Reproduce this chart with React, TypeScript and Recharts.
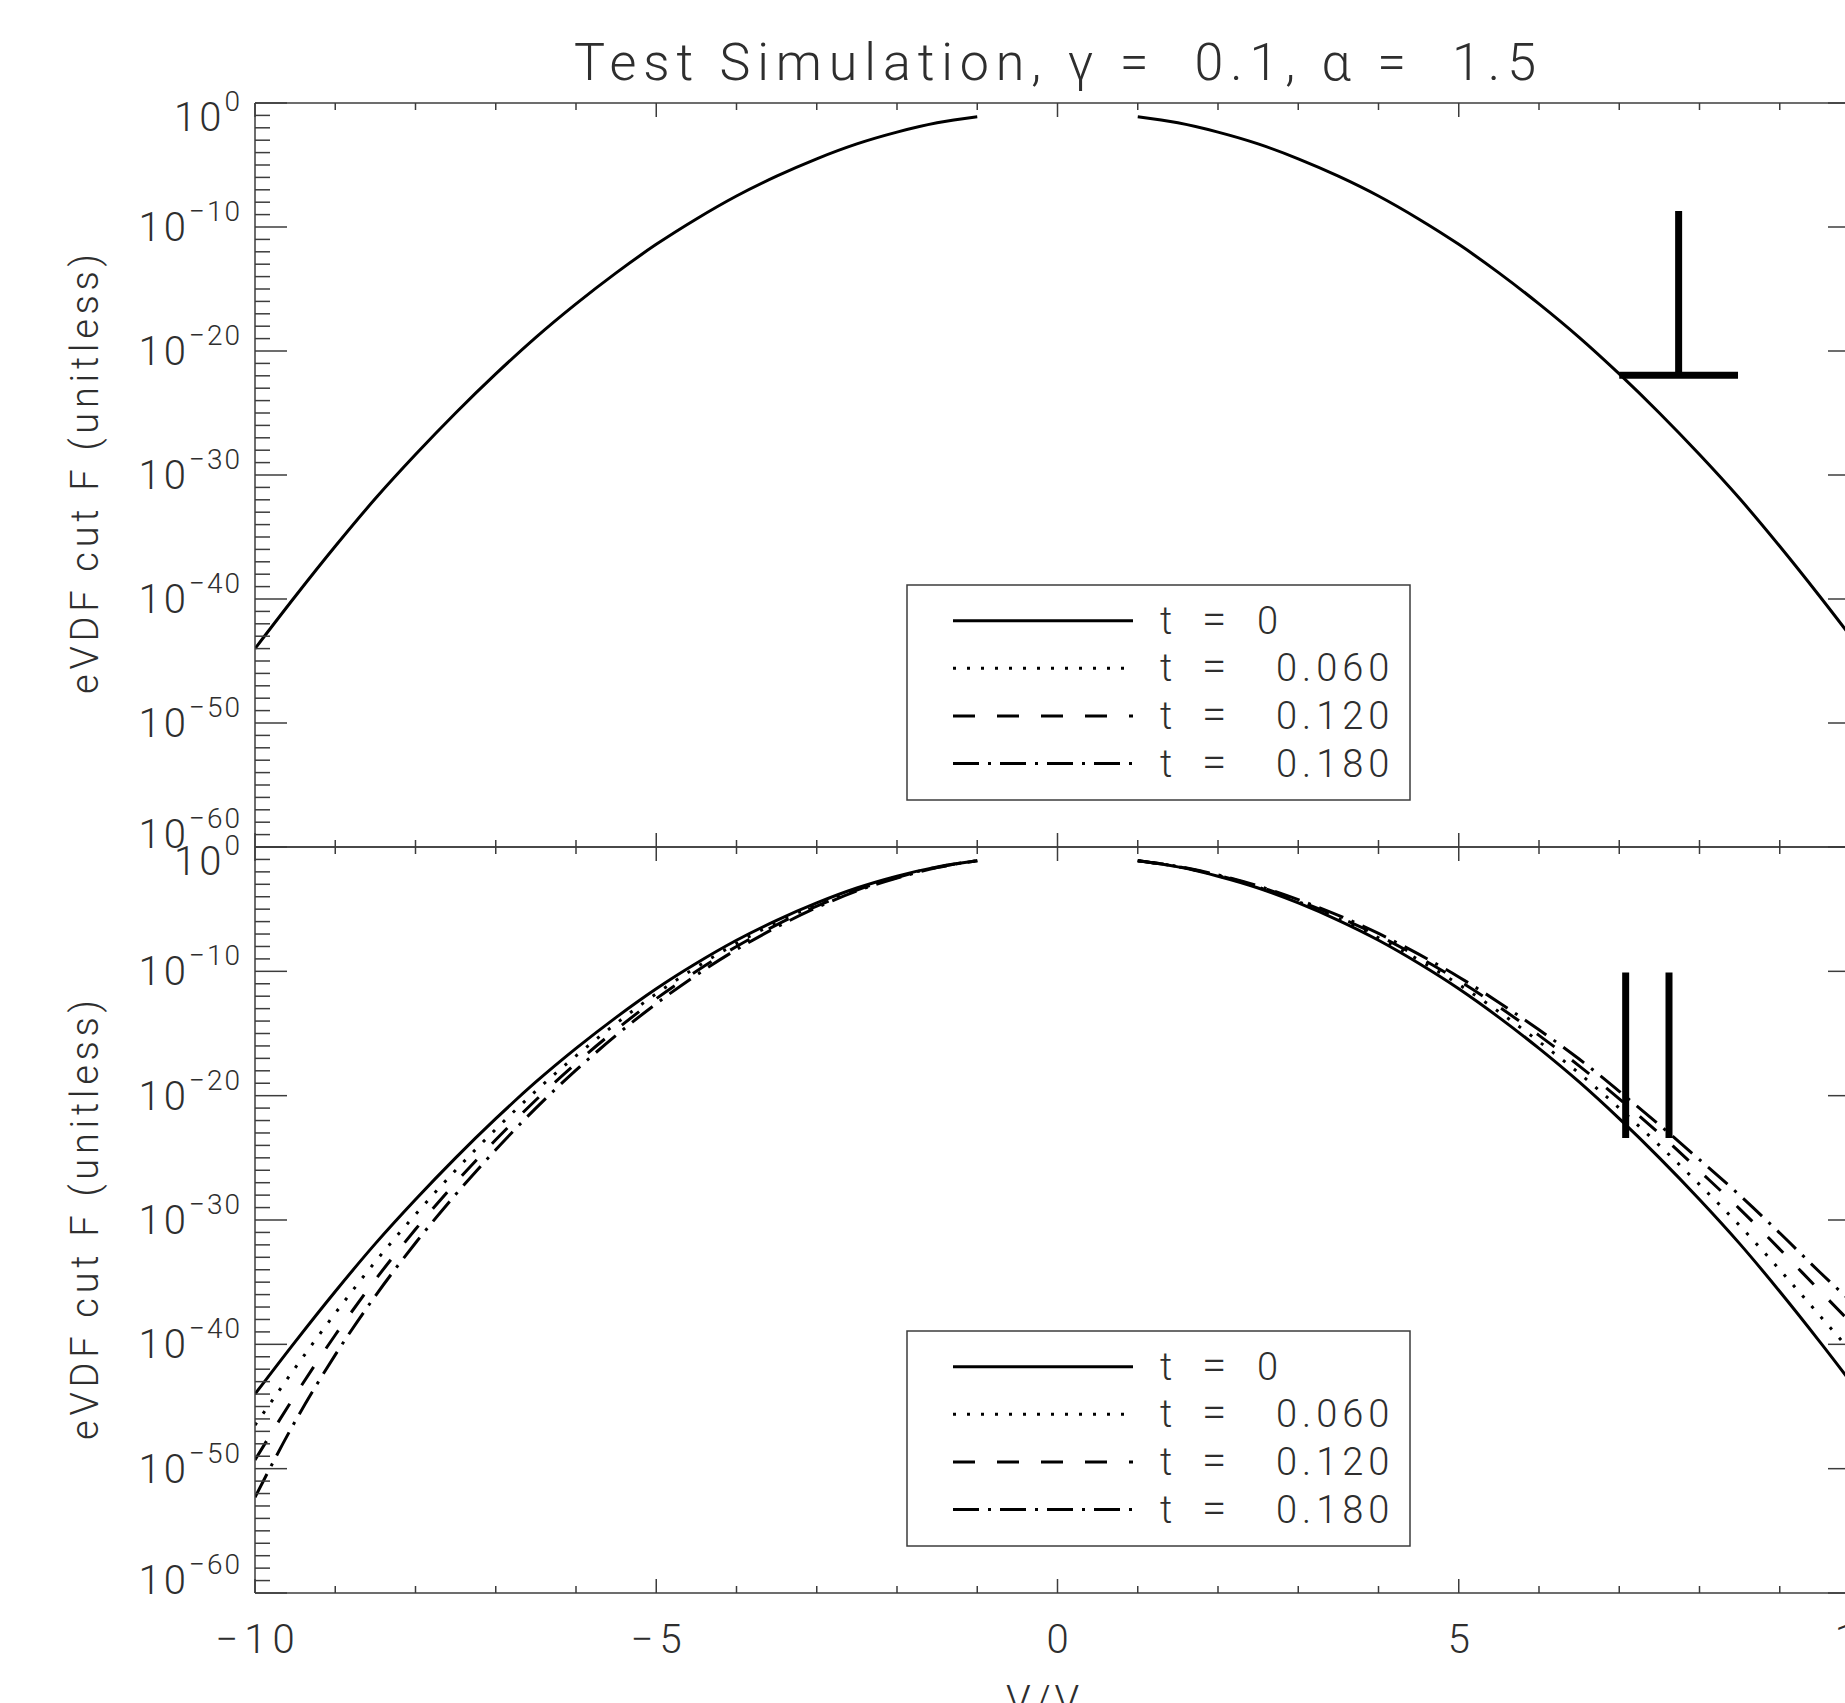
import React from 'react';
import { LineChart, Line, XAxis, YAxis, ReferenceLine, Customized } from 'recharts';

// ---------- data (log10 of F) ----------
const velocity = [-10, -9.5, -9, -8.5, -8, -7.5, -7, -6.5, -6, -5.5, -5, -4.5, -4, -3.5, -3, -2.5, -2, -1.5, -1, -0.5, 0, 0.5, 1, 1.5, 2, 2.5, 3, 3.5, 4, 4.5, 5, 5.5, 6, 6.5, 7, 7.5, 8, 8.5, 9, 9.5, 10];

const logF_t0 = [-44.0, -39.8, -35.75, -31.9, -28.35, -25.0, -21.85, -18.9, -16.2, -13.7, -11.4, -9.35, -7.5, -5.9, -4.5, -3.3, -2.35, -1.6, -1.1, null, null, null, -1.1, -1.6, -2.35, -3.3, -4.5, -5.9, -7.5, -9.35, -11.4, -13.7, -16.2, -18.9, -21.85, -25.0, -28.35, -31.9, -35.75, -39.8, -44.0];
const logF_t060 = [-46.5, -41.9, -37.5, -33.35, -29.55, -26.0, -22.7, -19.62, -16.8, -14.2, -11.8, -9.67, -7.75, -6.08, -4.62, -3.38, -2.4, -1.62, -1.1, null, null, null, -1.1, -1.58, -2.31, -3.23, -4.4, -5.75, -7.3, -9.08, -11.05, -13.25, -15.65, -18.2, -21.0, -24.0, -27.15, -30.45, -34.0, -37.7, -41.4];
const logF_t120 = [-49.3, -44.1, -39.25, -34.8, -30.75, -27.0, -23.55, -20.35, -17.4, -14.7, -12.2, -9.99, -8.0, -6.26, -4.75, -3.46, -2.45, -1.64, -1.1, null, null, null, -1.1, -1.57, -2.28, -3.18, -4.32, -5.63, -7.12, -8.85, -10.75, -12.85, -15.15, -17.6, -20.25, -23.05, -26.05, -29.1, -32.35, -35.7, -39.0];
const logF_t180 = [-52.3, -46.2, -40.85, -36.1, -31.85, -27.95, -24.35, -21.0, -17.95, -15.15, -12.6, -10.3, -8.25, -6.45, -4.87, -3.54, -2.5, -1.66, -1.1, null, null, null, -1.1, -1.56, -2.25, -3.13, -4.23, -5.5, -6.95, -8.62, -10.45, -12.5, -14.7, -17.05, -19.65, -22.35, -25.15, -28.0, -31.05, -34.2, -37.2];

const seriesKeys = ['t0', 't060', 't120', 't180'];
const seriesTimes = ['0', '0.060', '0.120', '0.180'];
const seriesDash = ['', '3 11', '22 22', '26 9 3 9'];

// threshold markers
const topMarkerV = [7.74];
const topMarkerLog = [-8.7, -21.95];
const topMarkerBar = [7.0, 8.48];
const bottomMarkerV = [7.08, 7.62];
const bottomMarkerLog = [-10.1, -23.4];

const xTicks = [-10, -9, -8, -7, -6, -5, -4, -3, -2, -1, 0, 1, 2, 3, 4, 5, 6, 7, 8, 9, 10];
const yExponents = Array.from({ length: 61 }, (_, i) => -i);

const titleText = 'Test Simulation, \u03b3 =  0.1, \u03b1 =  1.5';
const yLabelText = 'eVDF cut F (unitless)';

// ---------- derived table ----------
const toF = (e: number | null) => (e === null ? null : Math.pow(10, e));
const rows = velocity.map((v, i) => ({
  v,
  t0: toF(logF_t0[i]),
  t060: toF(logF_t060[i]),
  t120: toF(logF_t120[i]),
  t180: toF(logF_t180[i]),
}));
const yTicks = yExponents.map((e) => Math.pow(10, e));

// ---------- styling ----------
const FONT = 'Roboto, "DejaVu Sans", sans-serif';
const FW = 300;
const TXT = '#2e2e2e';
const AX = '#3c3c3c';
const W = 1880;
const LEFT = 255;
const PT1 = 103;
const PB1 = 847;
const PB2 = 1593;

function XTick(props: any) {
  const { x, y, payload, side, labels } = props;
  const v = payload.value;
  const major = v % 5 === 0;
  const len = major ? 14 : 7;
  const dir = side === 'bottom' ? -1 : 1;
  const ls = 6;
  return (
    <g>
      <line x1={x} y1={y} x2={x} y2={y + dir * len} stroke={AX} strokeWidth={1.5} />
      {labels && major ? (
        <text x={x + ls / 2} y={y + 60} textAnchor="middle" fontFamily={FONT} fontWeight={FW} fontSize={40} fill={TXT} letterSpacing={ls}>
          {v < 0 ? '\u2212' + Math.abs(v) : String(v)}
        </text>
      ) : null}
    </g>
  );
}

function YTick(props: any) {
  const { x, y, payload, side, labels } = props;
  const k = Math.round(-Math.log10(payload.value));
  const major = k % 10 === 0;
  const len = major ? 32 : 15;
  const dir = side === 'left' ? 1 : -1;
  let label = null;
  if (labels && major) {
    const shift = k === 0 ? 13.5 : k === 60 ? -13 : 0;
    const base = y + 14 + shift;
    label = (
      <text x={x - 13} y={base} textAnchor="end" fontFamily={FONT} fontWeight={FW} fontSize={40} fill={TXT}>
        <tspan letterSpacing={3}>10</tspan>
        <tspan dy={-20} fontSize={28} letterSpacing={2}>{k === 0 ? '0' : '\u2212' + k}</tspan>
      </text>
    );
  }
  return (
    <g>
      <line x1={x} y1={y} x2={x + dir * len} y2={y} stroke={AX} strokeWidth={1.5} />
      {label}
    </g>
  );
}

function Legend(props: any) {
  const { top } = props;
  return (
    <g>
      <rect x={907} y={top} width={503} height={215} fill="none" stroke={AX} strokeWidth={1.5} />
      {seriesKeys.map((k, i) => {
        const ly = top + 35.7 + i * 47.6;
        return (
          <g key={k}>
            <line x1={953} y1={ly} x2={1133} y2={ly} stroke="#000" strokeWidth={3} strokeDasharray={seriesDash[i] || undefined} />
            <text y={ly + 13} fontFamily={FONT} fontWeight={FW} fontSize={38} fill={TXT}>
              <tspan x={1160}>t</tspan>
              <tspan x={1202} fontSize={44}>=</tspan>
              <tspan x={i === 0 ? 1257 : 1276} letterSpacing={5}>{seriesTimes[i]}</tspan>
            </text>
          </g>
        );
      })}
    </g>
  );
}

function Title() {
  return (
    <text x={574} y={80} fontFamily={FONT} fontWeight={FW} fontSize={52} fill={TXT} style={{ whiteSpace: 'pre' }}
      textLength={962} lengthAdjust="spacing">
      {titleText}
    </text>
  );
}

function YLabel(props: any) {
  const { cy } = props;
  return (
    <text transform={`translate(98, ${cy + 220}) rotate(-90)`} fontFamily={FONT} fontWeight={FW} fontSize={38} fill={TXT}
      textLength={440} lengthAdjust="spacing">
      {yLabelText}
    </text>
  );
}

function XLabel() {
  return (
    <text x={1060} y={1714} textAnchor="middle" fontFamily={FONT} fontWeight={FW} fontSize={40} fill={TXT} letterSpacing={4}>
      V/V<tspan fontSize={26} dy={8}>th</tspan>
    </text>
  );
}

function Panel(props: { height: number; margin: any; bottomPanel: boolean }) {
  const { height, margin, bottomPanel } = props;
  const keys = bottomPanel ? seriesKeys : ['t0'];
  return (
    <LineChart width={W} height={height} data={rows} margin={margin}>
      <XAxis xAxisId="b" orientation="bottom" dataKey="v" type="number" domain={[-10, 10]} ticks={xTicks} interval={0} allowDataOverflow
        height={30} tickSize={0} tickMargin={0} tickLine={false} axisLine={{ stroke: AX, strokeWidth: 1.5 }}
        tick={(p: any) => <XTick {...p} side="bottom" labels={bottomPanel} />} />
      <XAxis xAxisId="t" orientation="top" dataKey="v" type="number" domain={[-10, 10]} ticks={xTicks} interval={0} allowDataOverflow
        height={30} tickSize={0} tickMargin={0} tickLine={false} axisLine={{ stroke: AX, strokeWidth: 1.5 }}
        tick={(p: any) => <XTick {...p} side="top" labels={false} />} />
      <YAxis yAxisId="l" orientation="left" type="number" scale="log" domain={[1e-60, 1]} ticks={yTicks} interval={0} allowDataOverflow
        width={50} tickSize={0} tickMargin={0} tickLine={false} axisLine={{ stroke: AX, strokeWidth: 1.5 }}
        tick={(p: any) => <YTick {...p} side="left" labels={true} />} />
      <YAxis yAxisId="r" orientation="right" type="number" scale="log" domain={[1e-60, 1]} ticks={yTicks} interval={0} allowDataOverflow
        width={20} tickSize={0} tickMargin={0} tickLine={false} axisLine={{ stroke: AX, strokeWidth: 1.5 }}
        tick={(p: any) => <YTick {...p} side="right" labels={false} />} />
      {keys.map((k) => {
        const i = seriesKeys.indexOf(k);
        return (
          <Line key={k} xAxisId="b" yAxisId="l" dataKey={k} type="monotone" stroke="#000" strokeWidth={3}
            strokeDasharray={seriesDash[i] || undefined} dot={false} activeDot={false} connectNulls={false}
            isAnimationActive={false} />
        );
      })}
      {!bottomPanel && topMarkerV.map((v, i) => (
        <ReferenceLine key={'tv' + i} xAxisId="b" yAxisId="l" ifOverflow="visible"
          segment={[{ x: v, y: Math.pow(10, topMarkerLog[0]) }, { x: v, y: Math.pow(10, topMarkerLog[1]) }]}
          stroke="#000" strokeWidth={7} />
      ))}
      {!bottomPanel && (
        <ReferenceLine xAxisId="b" yAxisId="l" ifOverflow="visible"
          segment={[{ x: topMarkerBar[0], y: Math.pow(10, topMarkerLog[1]) }, { x: topMarkerBar[1], y: Math.pow(10, topMarkerLog[1]) }]}
          stroke="#000" strokeWidth={7} />
      )}
      {bottomPanel && bottomMarkerV.map((v, i) => (
        <ReferenceLine key={'bv' + i} xAxisId="b" yAxisId="l" ifOverflow="visible"
          segment={[{ x: v, y: Math.pow(10, bottomMarkerLog[0]) }, { x: v, y: Math.pow(10, bottomMarkerLog[1]) }]}
          stroke="#000" strokeWidth={7} />
      ))}
      <Customized component={<Legend top={bottomPanel ? 1331 : 585} />} />
      <Customized component={<YLabel cy={bottomPanel ? 1220 : 474} />} />
      {!bottomPanel && <Customized component={<Title />} />}
      {bottomPanel && <Customized component={<XLabel />} />}
    </LineChart>
  );
}

export default function App() {
  return (
    <div style={{ position: 'absolute', left: 0, top: 0, width: 1845, height: 1703, overflow: 'hidden', background: '#fff' }}>
      <div style={{ position: 'absolute', left: 0, top: 0 }}>
        <Panel height={900} bottomPanel={false} margin={{ top: PT1 - 30, bottom: 900 - PB1 - 30, left: LEFT - 50, right: 0 }} />
      </div>
      <div style={{ position: 'absolute', left: 0, top: 0 }}>
        <Panel height={1703} bottomPanel={true} margin={{ top: PB1 - 30, bottom: 1703 - PB2 - 30, left: LEFT - 50, right: 0 }} />
      </div>
    </div>
  );
}
